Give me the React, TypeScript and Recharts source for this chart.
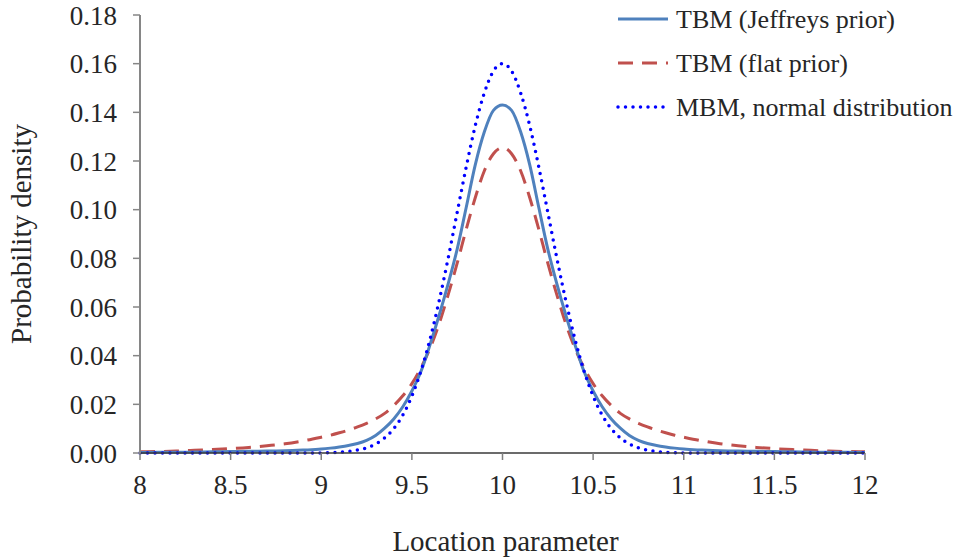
import React from "react";
import { LineChart, Line, XAxis, YAxis, Legend } from "recharts";

// location parameter (x) and the three density curves
const locations = [
  8.0, 8.1, 8.2, 8.3, 8.4, 8.5, 8.6, 8.7, 8.8, 8.9,
  9.0, 9.05, 9.1, 9.15, 9.2, 9.25, 9.3, 9.35, 9.4, 9.45,
  9.5, 9.55, 9.6, 9.65, 9.7, 9.75, 9.8, 9.85, 9.9, 9.95,
  10.0,
  10.05, 10.1, 10.15, 10.2, 10.25, 10.3, 10.35, 10.4, 10.45, 10.5,
  10.55, 10.6, 10.65, 10.7, 10.75, 10.8, 10.85, 10.9, 10.95, 11.0,
  11.1, 11.2, 11.3, 11.4, 11.5, 11.6, 11.7, 11.8, 11.9, 12.0,
];

const jeffreysPrior = [
  0.0002, 0.0003, 0.0003, 0.0004, 0.0005, 0.0006, 0.0007, 0.0008, 0.0009, 0.0012,
  0.0016, 0.002, 0.0025, 0.0031, 0.0039, 0.0052, 0.0072, 0.0102, 0.014, 0.019,
  0.0255, 0.0335, 0.0445, 0.0565, 0.0695, 0.0838, 0.101, 0.1185, 0.132, 0.1408,
  0.143,
  0.1408, 0.132, 0.1185, 0.101, 0.0838, 0.0695, 0.0565, 0.0445, 0.0335, 0.0255,
  0.019, 0.014, 0.0102, 0.0072, 0.0052, 0.0039, 0.0031, 0.0025, 0.002, 0.0016,
  0.0012, 0.0009, 0.0008, 0.0007, 0.0006, 0.0005, 0.0004, 0.0003, 0.0003, 0.0002,
];

const flatPrior = [
  0.0005, 0.0006, 0.0008, 0.0011, 0.0014, 0.0018, 0.0023, 0.003, 0.0038, 0.005,
  0.0065, 0.0073, 0.0083, 0.0094, 0.0107, 0.0122, 0.014, 0.0163, 0.0195, 0.0235,
  0.0285, 0.035, 0.043, 0.053, 0.065, 0.078, 0.092, 0.105, 0.116, 0.123,
  0.1255,
  0.123, 0.116, 0.105, 0.092, 0.078, 0.065, 0.053, 0.043, 0.035, 0.0285,
  0.0235, 0.0195, 0.0163, 0.014, 0.0122, 0.0107, 0.0094, 0.0083, 0.0073, 0.0065,
  0.005, 0.0038, 0.003, 0.0023, 0.0018, 0.0014, 0.0011, 0.0008, 0.0006, 0.0005,
];

const normalMbm = [
  0, 0, 0, 0, 0, 0, 0, 0, 0, 0,
  0, 0.0001, 0.0003, 0.0006, 0.0012, 0.0021, 0.0037, 0.0062, 0.01, 0.0156,
  0.0234, 0.0337, 0.0467, 0.0624, 0.08, 0.0989, 0.1176, 0.1346, 0.148, 0.157,
  0.16,
  0.157, 0.148, 0.1346, 0.1176, 0.0989, 0.08, 0.0624, 0.0467, 0.0337, 0.0234,
  0.0156, 0.01, 0.0062, 0.0037, 0.0021, 0.0012, 0.0006, 0.0003, 0.0001, 0,
  0, 0, 0, 0, 0, 0, 0, 0, 0, 0,
];

const xTicks = [8, 8.5, 9, 9.5, 10, 10.5, 11, 11.5, 12];
const yTicks = [0, 0.02, 0.04, 0.06, 0.08, 0.1, 0.12, 0.14, 0.16, 0.18];
const seriesNames = ["TBM (Jeffreys prior)", "TBM (flat prior)", "MBM, normal distribution"];

const data = locations.map((x, i) => ({
  x,
  jeffreys: jeffreysPrior[i],
  flat: flatPrior[i],
  mbm: normalMbm[i],
}));

const FONT = '"Liberation Serif", "Times New Roman", serif';
const TEXT = "#262626";
const fontRule = `.chart-serif, .chart-serif text, .chart-serif tspan { font-family: ${FONT} !important; }`;

const series = [
  { key: "jeffreys", name: seriesNames[0], color: "#4f81bd", width: 3, dash: undefined, cap: "butt" },
  { key: "flat", name: seriesNames[1], color: "#c0504d", width: 3, dash: "15 9", cap: "butt" },
  { key: "mbm", name: seriesNames[2], color: "#0000ff", width: 3.5, dash: "0 7.5", cap: "round" },
];

function LegendBox() {
  return (
    <svg width={340} height={130} style={{ display: "block" }}>
      {series.map((s, i) => {
        const y = 19 + i * 44;
        return (
          <g key={s.key}>
            <line
              x1={3}
              x2={53}
              y1={y}
              y2={y}
              stroke={s.color}
              strokeWidth={s.width}
              strokeDasharray={s.dash}
              strokeLinecap={s.cap as any}
            />
            <text x={61} y={y + 9} fontFamily={FONT} fontSize={26} fill={TEXT}>
              {s.name}
            </text>
          </g>
        );
      })}
    </svg>
  );
}

export default function App() {
  return (
    <div
      className="chart-serif"
      style={{ position: "absolute", left: 0, top: 0, background: "#fff", fontFamily: FONT }}
    >
      <style>{fontRule}</style>
      <LineChart
        width={954}
        height={558}
        data={data}
        margin={{ top: 15, right: 89, left: 0, bottom: 0 }}
      >
        <XAxis
          dataKey="x"
          type="number"
          domain={[8, 12]}
          ticks={xTicks}
          interval={0}
          height={105}
          tickSize={7}
          tickMargin={15}
          axisLine={{ stroke: "#3a3a3a", strokeWidth: 1.5 }}
          tickLine={{ stroke: "#7f7f7f", strokeWidth: 1.5 }}
          tick={{ fontFamily: FONT, fontSize: 27, fill: TEXT }}
          label={({ viewBox }: any) => (
            <text
              x={viewBox.x + viewBox.width / 2 + 3}
              y={551}
              textAnchor="middle"
              fontFamily={FONT}
              fontSize={29}
              fill={TEXT}
            >
              Location parameter
            </text>
          )}
        />
        <YAxis
          type="number"
          domain={[0, 0.18]}
          ticks={yTicks}
          interval={0}
          width={140}
          tickSize={7}
          tickMargin={16}
          tickFormatter={(v: number) => v.toFixed(2)}
          axisLine={{ stroke: "#868686", strokeWidth: 2 }}
          tickLine={{ stroke: "#868686", strokeWidth: 1.5 }}
          tick={{ fontFamily: FONT, fontSize: 27, fill: TEXT }}
          label={({ viewBox }: any) => {
            const cx = 31;
            const cy = viewBox.y + viewBox.height / 2;
            return (
              <text
                x={cx}
                y={cy}
                transform={`rotate(-90 ${cx} ${cy})`}
                textAnchor="middle"
                fontFamily={FONT}
                fontSize={29}
                fill={TEXT}
              >
                Probability density
              </text>
            );
          }}
        />
        <Legend
          layout="vertical"
          align="center"
          verticalAlign="middle"
          wrapperStyle={{ top: 0, left: 615, width: 340 }}
          content={() => <LegendBox />}
        />
        <Line
          dataKey="flat"
          name={seriesNames[1]}
          type="monotone"
          stroke="#c0504d"
          strokeWidth={3}
          strokeDasharray="15 9"
          dot={false}
          activeDot={false}
          isAnimationActive={false}
        />
        <Line
          dataKey="jeffreys"
          name={seriesNames[0]}
          type="monotone"
          stroke="#4f81bd"
          strokeWidth={3}
          dot={false}
          activeDot={false}
          isAnimationActive={false}
        />
        <Line
          dataKey="mbm"
          name={seriesNames[2]}
          type="monotone"
          stroke="#0000ff"
          strokeWidth={3.5}
          strokeDasharray="0 7.5"
          strokeLinecap="round"
          dot={false}
          activeDot={false}
          isAnimationActive={false}
        />
      </LineChart>
    </div>
  );
}
